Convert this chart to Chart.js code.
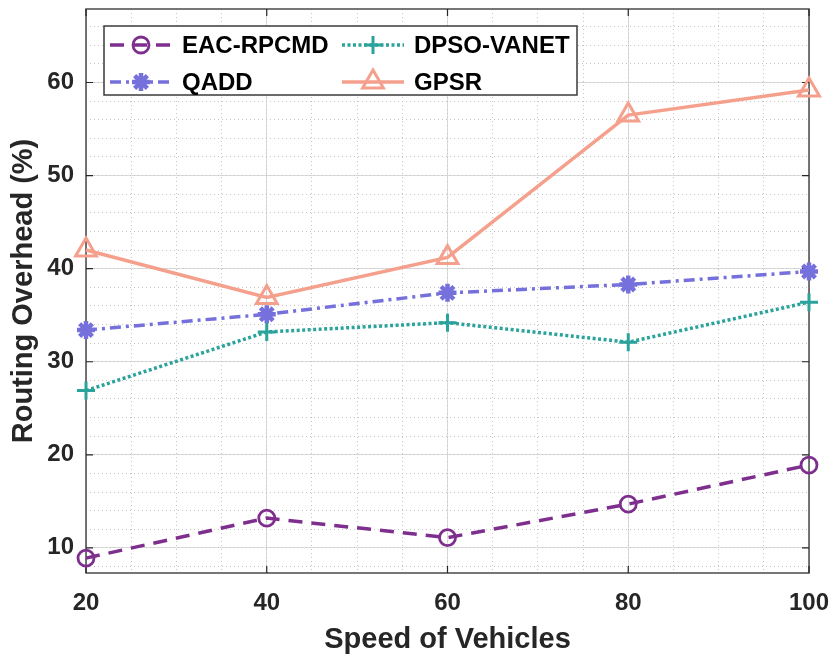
<!DOCTYPE html>
<html>
<head>
<meta charset="utf-8">
<script src="https://cdn.jsdelivr.net/npm/chart.js@4.4.1/dist/chart.umd.min.js"></script>
<style>
  html, body { margin: 0; padding: 0; background: #fff; }
  #wrap { width: 833px; height: 657px; }
</style>
</head>
<body>
<div id="wrap"><canvas id="grafiekCanvas" width="833" height="657"></canvas></div>
<script>
// Gegevens
const speeds = [20, 40, 60, 80, 100];
const eacRpcmd = [8.9, 13.2, 11.1, 14.7, 18.9];
const qadd = [33.4, 35.1, 37.4, 38.3, 39.7];
const dpsoVanet = [26.9, 33.2, 34.2, 32.1, 36.4];
const gpsr = [42.0, 36.9, 41.2, 56.5, 59.2];
const seriesNames = ['EAC-RPCMD', 'QADD', 'DPSO-VANET', 'GPSR'];
const xTicks = [20, 40, 60, 80, 100];
const yTicks = [10, 20, 30, 40, 50, 60];

const FONT = '"Liberation Sans", Arial, Helvetica, sans-serif';
const TEXT = '#262626';

function punten(values) {
    return speeds.map((s, i) => ({ x: s, y: values[i] }));
}

// geen extra ruimte voor overhangende ticklabels
function vastBreed(w) {
    return s => { s.width = w; s.paddingTop = 0; s.paddingBottom = 0; s.paddingLeft = 0; s.paddingRight = 0; };
}
function vastHoog(h) {
    return s => { s.height = h; s.paddingTop = 0; s.paddingBottom = 0; s.paddingLeft = 0; s.paddingRight = 0; };
}

// Kader, ticks naar binnen en legenda (twee kolommen) zelf tekenen
const kaderPlugin = {
    id: 'kader',
    beforeDatasetsDraw(chart) {
        const { ctx, chartArea: a, scales } = chart;
        ctx.save();
        ctx.strokeStyle = '#4a4a4a';
        ctx.lineWidth = 1.5;
        ctx.strokeRect(a.left, a.top, a.right - a.left, a.bottom - a.top);
        ctx.strokeStyle = '#262626';
        ctx.lineWidth = 1.2;
        const len = 7;
        xTicks.forEach(v => {
            const px = scales.x.getPixelForValue(v);
            ctx.beginPath();
            ctx.moveTo(px, a.bottom); ctx.lineTo(px, a.bottom - len);
            ctx.moveTo(px, a.top); ctx.lineTo(px, a.top + len);
            ctx.stroke();
        });
        yTicks.forEach(v => {
            const py = scales.y.getPixelForValue(v);
            ctx.beginPath();
            ctx.moveTo(a.left, py); ctx.lineTo(a.left + len, py);
            ctx.moveTo(a.right, py); ctx.lineTo(a.right - len, py);
            ctx.stroke();
        });
        ctx.restore();
    },
    afterDatasetsDraw(chart) {
        const { ctx } = chart;
        ctx.save();
        // legenda
        const box = { x: 104, y: 26, w: 473, h: 69 };
        ctx.fillStyle = '#fff';
        ctx.fillRect(box.x, box.y, box.w, box.h);
        ctx.strokeStyle = '#3a3a3a';
        ctx.lineWidth = 1.5;
        ctx.strokeRect(box.x, box.y, box.w, box.h);
        const kolX = [110, 342];
        const rijY = [45, 82];
        chart.data.datasets.forEach((ds, i) => {
            const col = Math.floor(i / 2), row = i % 2;
            const x1 = kolX[col], x2 = x1 + 62, y = rijY[row];
            ctx.save();
            ctx.strokeStyle = ds.borderColor;
            ctx.lineWidth = ds.borderWidth;
            ctx.setLineDash(ds.borderDash || []);
            ctx.beginPath();
            ctx.moveTo(x1, y); ctx.lineTo(x2, y);
            ctx.stroke();
            ctx.setLineDash([]);
            ctx.fillStyle = ds.pointBackgroundColor;
            ctx.strokeStyle = ds.pointBorderColor;
            ctx.lineWidth = ds.pointBorderWidth;
            Chart.helpers.drawPoint(ctx, {
                pointStyle: ds.pointStyle, radius: ds.pointRadius,
                borderWidth: ds.pointBorderWidth, rotation: 0
            }, (x1 + x2) / 2, y);
            ctx.restore();
            ctx.fillStyle = '#000';
            ctx.font = 'bold 24px ' + FONT;
            ctx.textBaseline = 'middle';
            ctx.textAlign = 'left';
            ctx.fillText(ds.label, x2 + 10, y + 1);
        });
        ctx.restore();
    }
};

const ctx = document.getElementById('grafiekCanvas').getContext('2d');
new Chart(ctx, {
    type: 'line',
    data: {
        datasets: [
            {
                label: seriesNames[0], data: punten(eacRpcmd), order: 3, clip: false,
                borderColor: '#7E2F8E', borderWidth: 3.5, borderDash: [14, 9],
                pointStyle: 'circle', pointRadius: 8, pointBorderWidth: 2.8,
                pointBorderColor: '#7E2F8E', pointBackgroundColor: 'rgba(0,0,0,0)'
            },
            {
                label: seriesNames[1], data: punten(qadd), order: 2, clip: false,
                borderColor: '#7570DC', borderWidth: 3.5, borderDash: [11, 5, 3, 5],
                pointStyle: 'star', pointRadius: 9, pointBorderWidth: 4.5,
                pointBorderColor: '#7570DC', pointBackgroundColor: '#7570DC'
            },
            {
                label: seriesNames[2], data: punten(dpsoVanet), order: 1, clip: false,
                borderColor: '#2AA39C', borderWidth: 3.5, borderDash: [3, 2.5],
                pointStyle: 'cross', pointRadius: 9, pointBorderWidth: 3,
                pointBorderColor: '#2AA39C', pointBackgroundColor: '#2AA39C'
            },
            {
                label: seriesNames[3], data: punten(gpsr), order: 0, clip: false,
                borderColor: '#F5A08C', borderWidth: 3.5,
                pointStyle: 'triangle', pointRadius: 12, pointBorderWidth: 3,
                pointBorderColor: '#F5A08C', pointBackgroundColor: 'rgba(0,0,0,0)'
            }
        ]
    },
    options: {
        responsive: false,
        animation: false,
        layout: { autoPadding: false, padding: { top: 9, right: 24, left: 0, bottom: 0 } },
        plugins: { legend: { display: false }, tooltip: { enabled: false } },
        elements: { line: { tension: 0 } },
        scales: {
            x: {
                type: 'linear', min: 20, max: 100,
                afterBuildTicks: s => { s.ticks = xTicks.map(v => ({ value: v })); },
                afterFit: vastHoog(84),
                grid: { color: '#dcdcdc', lineWidth: 1, drawTicks: false },
                border: { display: false },
                ticks: { color: TEXT, padding: 16, font: { family: FONT, size: 24, weight: 'bold' } },
                title: {
                    display: true, text: 'Speed of Vehicles', color: TEXT,
                    font: { family: FONT, size: 29, weight: 'bold' }, padding: 0
                }
            },
            y: {
                type: 'linear', min: 7.3, max: 67.9,
                afterBuildTicks: s => { s.ticks = yTicks.map(v => ({ value: v })); },
                afterFit: vastBreed(86),
                grid: { color: '#dcdcdc', lineWidth: 1, drawTicks: false },
                border: { display: false },
                ticks: { color: TEXT, padding: 12, font: { family: FONT, size: 24, weight: 'bold' } },
                title: {
                    display: true, text: 'Routing Overhead (%)', color: TEXT,
                    font: { family: FONT, size: 29, weight: 'bold' }, padding: { top: 7 }
                }
            },
            xMinor: {
                type: 'linear', position: 'bottom', min: 20, max: 100,
                afterFit: vastHoog(0),
                ticks: { display: false, stepSize: 5, includeBounds: false },
                grid: { color: '#c4c4c4', lineWidth: 1, drawTicks: false },
                border: { display: false, dash: [1, 3] }
            },
            yMinor: {
                type: 'linear', position: 'left', min: 7.3, max: 67.9,
                afterFit: vastBreed(0),
                ticks: { display: false, stepSize: 2, includeBounds: false },
                grid: { color: '#c4c4c4', lineWidth: 1, drawTicks: false },
                border: { display: false, dash: [1, 3] }
            }
        }
    },
    plugins: [kaderPlugin]
});
</script>
</body>
</html>
